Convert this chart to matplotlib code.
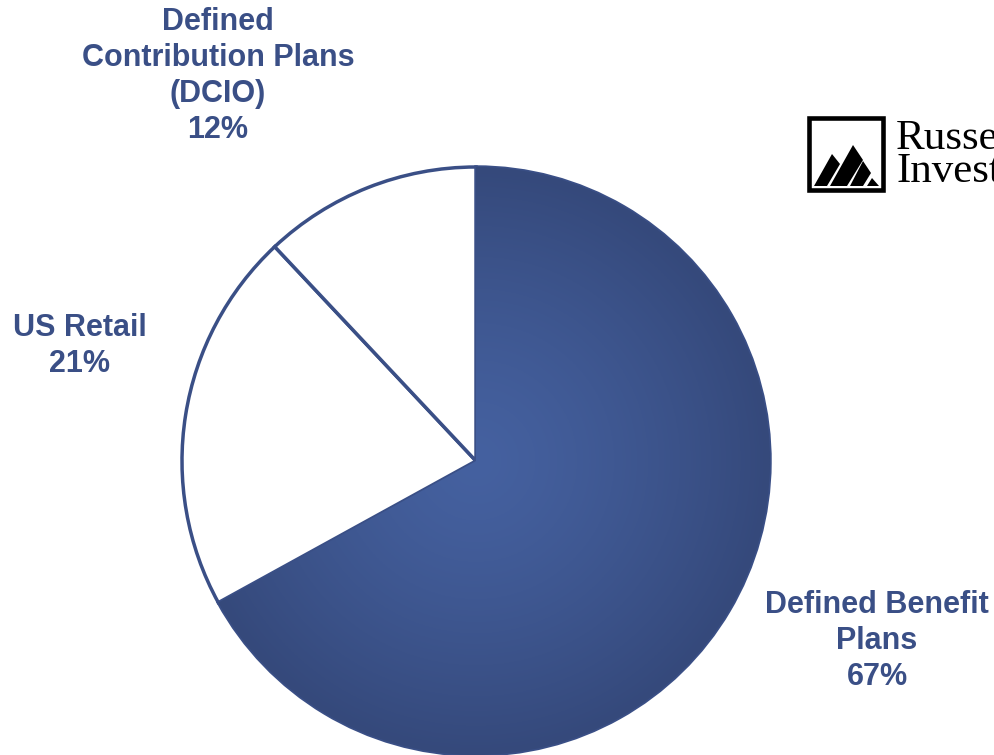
import numpy as np
import matplotlib.pyplot as plt
from matplotlib.patches import Polygon, Rectangle

# data
labels = ['Defined Benefit\nPlans', 'US Retail', 'Defined\nContribution Plans\n(DCIO)']
shares = [67, 21, 12]
label_pos = [(877, 641), (80, 346), (218, 76)]  # pixel positions (y from top)

navy = '#3a4f86'
W, H = 995, 755

fig = plt.figure(figsize=(W / 100, H / 100), dpi=100)
ax = fig.add_axes([0, 0, 1, 1])

cx, cy, r = 476, H - 461, 294
wedges, _ = ax.pie(shares, colors=[navy, 'white', 'white'], startangle=90,
                   counterclock=False, center=(cx, cy), radius=r,
                   wedgeprops=dict(edgecolor=navy, linewidth=2.5))

# radial gradient on the big slice
yy, xx = np.mgrid[cy - r:cy + r:400j, cx - r:cx + r:400j]
d = np.clip(np.hypot(xx - cx, yy - cy) / r, 0, 1)
c0 = np.array([0x45, 0x61, 0xa0]) / 255
c1 = np.array([0x35, 0x49, 0x7b]) / 255
img = c0[None, None, :] * (1 - d[..., None] ** 1.3) + c1[None, None, :] * d[..., None] ** 1.3
im = ax.imshow(img, extent=(cx - r, cx + r, cy - r, cy + r), origin='lower', zorder=1.5)
im.set_clip_path(wedges[0])

for lab, s, (x, y) in zip(labels, shares, label_pos):
    ax.text(x, H - y, f'{lab}\n{s}%', ha='center', va='center', ma='center',
            fontsize=22, fontweight='bold', color=navy, family='Liberation Sans',
            linespacing=1.25)

# Russell Investments logo (cut by the right edge)
def P(pts):
    ax.add_patch(Polygon([(x, H - y) for x, y in pts], closed=True, color='black', lw=0))

ax.add_patch(Rectangle((809, H - 190), 74, 72, fill=False, edgecolor='black', linewidth=3.3))
P([(814, 186), (832, 154), (840, 164), (827, 186)])
P([(830, 186), (853, 145), (863, 160), (847, 186)])
P([(850, 186), (863, 161), (871, 173), (863, 186)])
P([(867, 186), (872, 178), (879, 186)])
ax.text(896, H - 182, 'Russell\nInvestments', fontsize=31, family='Liberation Serif',
        color='black', va='baseline', linespacing=0.82)

ax.set_xlim(0, W)
ax.set_ylim(0, H)
ax.set_aspect('auto')
ax.axis('off')

fig.savefig('out.png', dpi=100, facecolor='white')
